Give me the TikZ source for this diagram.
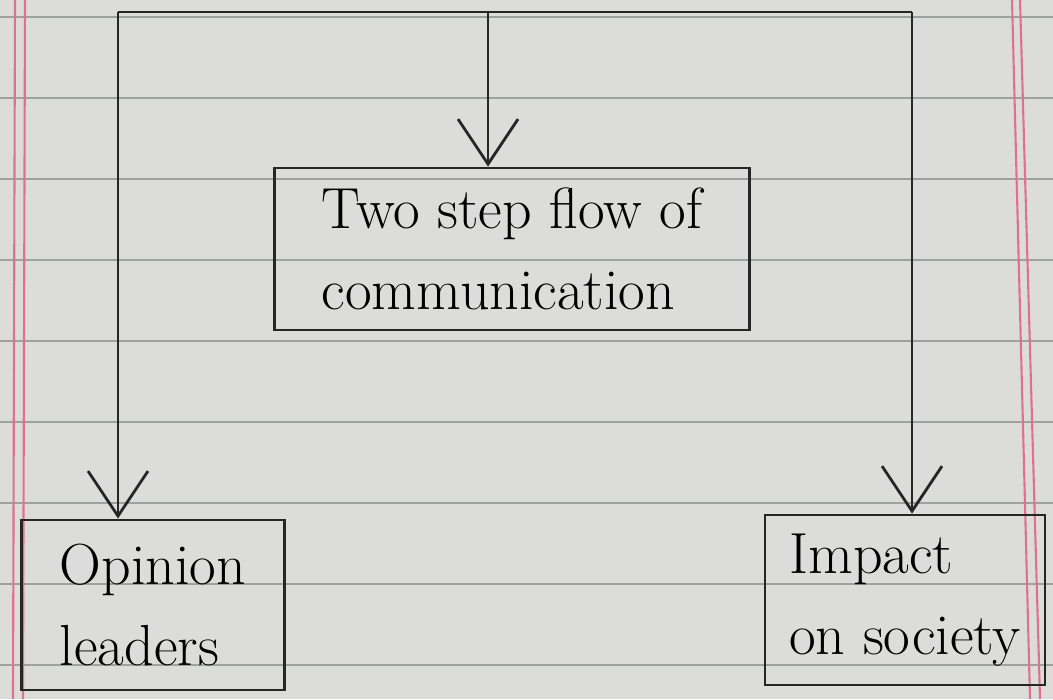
\documentclass[tikz,border=0pt]{standalone}
\usepackage{tikz}
\usetikzlibrary{
    arrows.meta,
    positioning
}
\definecolor{paper}{HTML}{DCDDDA}
\definecolor{ruling}{HTML}{9FA19E}
\definecolor{margin}{HTML}{E0708F}
\tikzset{
    line/.style = {
        line width = 1.6pt,
        ->,
        > = {
            Straight Barb[length=9mm, width=12mm, line width=1.6pt]
        }
    },
    arrow/.style = {
        line
    },
    % Box round a label:
    label box/.style = {
        rectangle,
        draw = black!85,
        line width = 1.6pt,
        align = left,
        inner sep = 0pt,
        font = \fontsize{33}{46}\selectfont
    }
}

\begin{document}
\begin{tikzpicture}[x=0.02cm, y=-0.02cm]
            % Paper with its rulings.
            \fill [paper] (0, 0) rectangle (1053, 699);
            \useasboundingbox (0, 0) rectangle (1053, 699);
            \foreach \y in {17, 98, 179, 260, 341, 422, 503, 584, 665}
                \draw [ruling, line width=0.7pt] (0, \y) -- (1053, \y);
            \draw [margin, line width=1.2pt] (15, 0) -- (13, 699);
            \draw [margin, line width=1.2pt] (25, 0) -- (23, 699);
            \draw [margin, line width=1.2pt] (1012, 0) -- (1030, 699);
            \draw [margin, line width=1.2pt] (1020, 0) -- (1040, 699);
            % The boxes.
            \node (flow) [label box, minimum width=9.5cm, minimum height=3.24cm]
                at (512, 249) {Two step flow of\\communication};
            \node (opinion) [label box, minimum width=5.26cm, minimum height=3.4cm]
                at (153, 605) {Opinion\\leaders};
            \node (impact) [label box, minimum width=5.6cm, minimum height=3.4cm]
                at (905, 600) {Impact\\on society};
            % The top bar and its three drops.
            \coordinate (top left) at (118, 12);
            \coordinate (top mid) at (488, 12);
            \coordinate (top right) at (912, 12);
            \draw [line width=1.6pt, black!85] (top left) -- (top right);
            \draw [arrow, black!85] (top mid) -- (top mid |- flow.north);
            \draw [arrow, black!85] (top left) -- (top left |- opinion.north);
            \draw [arrow, black!85] (top right) -- (top right |- impact.north);
        \end{tikzpicture}
\end{document}
